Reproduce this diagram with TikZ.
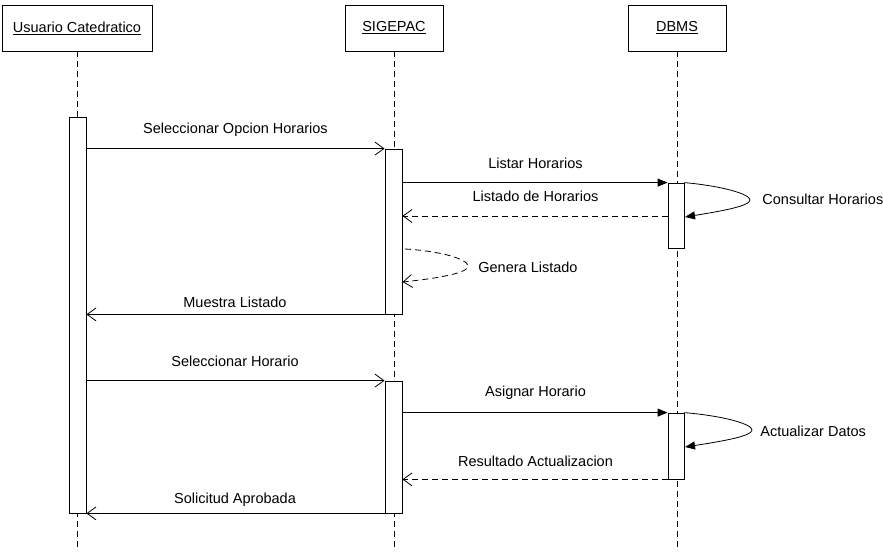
\documentclass[tikz,border=0pt]{standalone}
\usepackage{fontspec}
\setmainfont{Liberation Sans}
\usetikzlibrary{arrows.meta}
\begin{document}
\begin{tikzpicture}[x=1pt,y=-1pt,
  font=\fontsize{14.5}{16}\selectfont,
  line width=0.8pt,
  headbox/.style={draw, rectangle, minimum height=46pt, inner sep=0pt, fill=white},
  actbar/.style={draw, rectangle, minimum width=17pt, inner sep=0pt, fill=white},
  lifeline/.style={dash pattern=on 6pt off 4pt},
  syncmsg/.style={-{Triangle[length=10pt,width=8pt]}},
  openmsg/.style={-{Straight Barb[length=9pt,width=13pt,line width=0.8pt]}},
  retmsg/.style={dash pattern=on 6pt off 4pt, -{Straight Barb[length=9pt,width=13pt,line width=0.8pt]}},
  lbl/.style={inner sep=0pt, anchor=center},
  lbll/.style={inner sep=0pt, anchor=west}
]
\useasboundingbox (0,0) rectangle (883,552);

% headers
\node[headbox, minimum width=150pt] (hu) at (77,28) {\underline{Usuario Catedratico}};
\node[headbox, minimum width=98pt] (hs) at (394,28) {\underline{SIGEPAC}};
\node[headbox, minimum width=98pt] (hd) at (677,28) {\underline{DBMS}};

% lifeline ends
\coordinate (eu) at (77,550);
\coordinate (es) at (394,550);
\coordinate (ed) at (677,550);
\draw[lifeline] (hu.south) -- (eu);
\draw[lifeline] (hs.south) -- (es);
\draw[lifeline] (hd.south) -- (ed);

% activation bars
\node[actbar, minimum height=396pt] (ua) at (77.5,315) {};
\node[actbar, minimum height=165pt] (sb1) at (393.5,231.5) {};
\node[actbar, minimum height=132pt] (sb2) at (393.5,447) {};
\node[actbar, minimum width=16pt, minimum height=65pt] (db1) at (676,215.5) {};
\node[actbar, minimum width=16pt, minimum height=66pt] (db2) at (676,446) {};

% messages
\draw[openmsg] (ua.east |- sb1.north) -- (sb1.north west);
\node[lbl] (l1) at (235.5,130) {Seleccionar Opcion Horarios};

\draw[syncmsg] (sb1.east |- db1.north) -- (db1.north west);
\node[lbl] (l2) at (535.5,163) {Listar Horarios};

\coordinate (r1) at (676,216);
\draw[retmsg] (db1.west |- r1) -- (sb1.east |- r1);
\node[lbl] (l3) at (535.5,196) {Listado de Horarios};

% self: Consultar Horarios
\coordinate (c1e) at (685,217);
\draw[-{Triangle[length=10pt,width=8pt]}] (db1.north east) .. controls (722,186) and (750,194) .. (750,200)
   .. controls (750,206) and (722,211) .. (c1e);
\node[lbll] (l4) at (762,199) {Consultar Horarios};

% self: Genera Listado
\coordinate (g1s) at (405,249);
\coordinate (g1e) at (402.5,282);
\draw[dash pattern=on 6pt off 4pt, -{Straight Barb[length=9pt,width=13pt,line width=0.8pt]}]
   (g1s) .. controls (440,251) and (468,259) .. (468,266)
   .. controls (468,273) and (440,278) .. (g1e);
\node[lbll] (l5) at (478,267) {Genera Listado};

\draw[openmsg] (sb1.south west) -- (ua.east |- sb1.south);
\node[lbl] (l6) at (235,302) {Muestra Listado};

\draw[openmsg] (ua.east |- sb2.north) -- (sb2.north west);
\node[lbl] (l7) at (235,361) {Seleccionar Horario};

\draw[syncmsg] (sb2.east |- db2.north) -- (db2.north west);
\node[lbl] (l8) at (535.5,393) {Asignar Horario};

% self: Actualizar Datos
\coordinate (a1e) at (685,447);
\draw[-{Triangle[length=10pt,width=8pt]}] (db2.north east) .. controls (724,416) and (752,424) .. (752,430)
   .. controls (752,436) and (724,441) .. (a1e);
\node[lbll] (l9) at (760,431) {Actualizar Datos};

\draw[retmsg] (db2.south west) -- (sb2.east |- db2.south);
\node[lbl] (l10) at (535.5,461) {Resultado Actualizacion};

\draw[openmsg] (sb2.south west) -- (ua.east |- sb2.south);
\node[lbl] (l11) at (235,500) {Solicitud Aprobada};
\end{tikzpicture}
\end{document}
